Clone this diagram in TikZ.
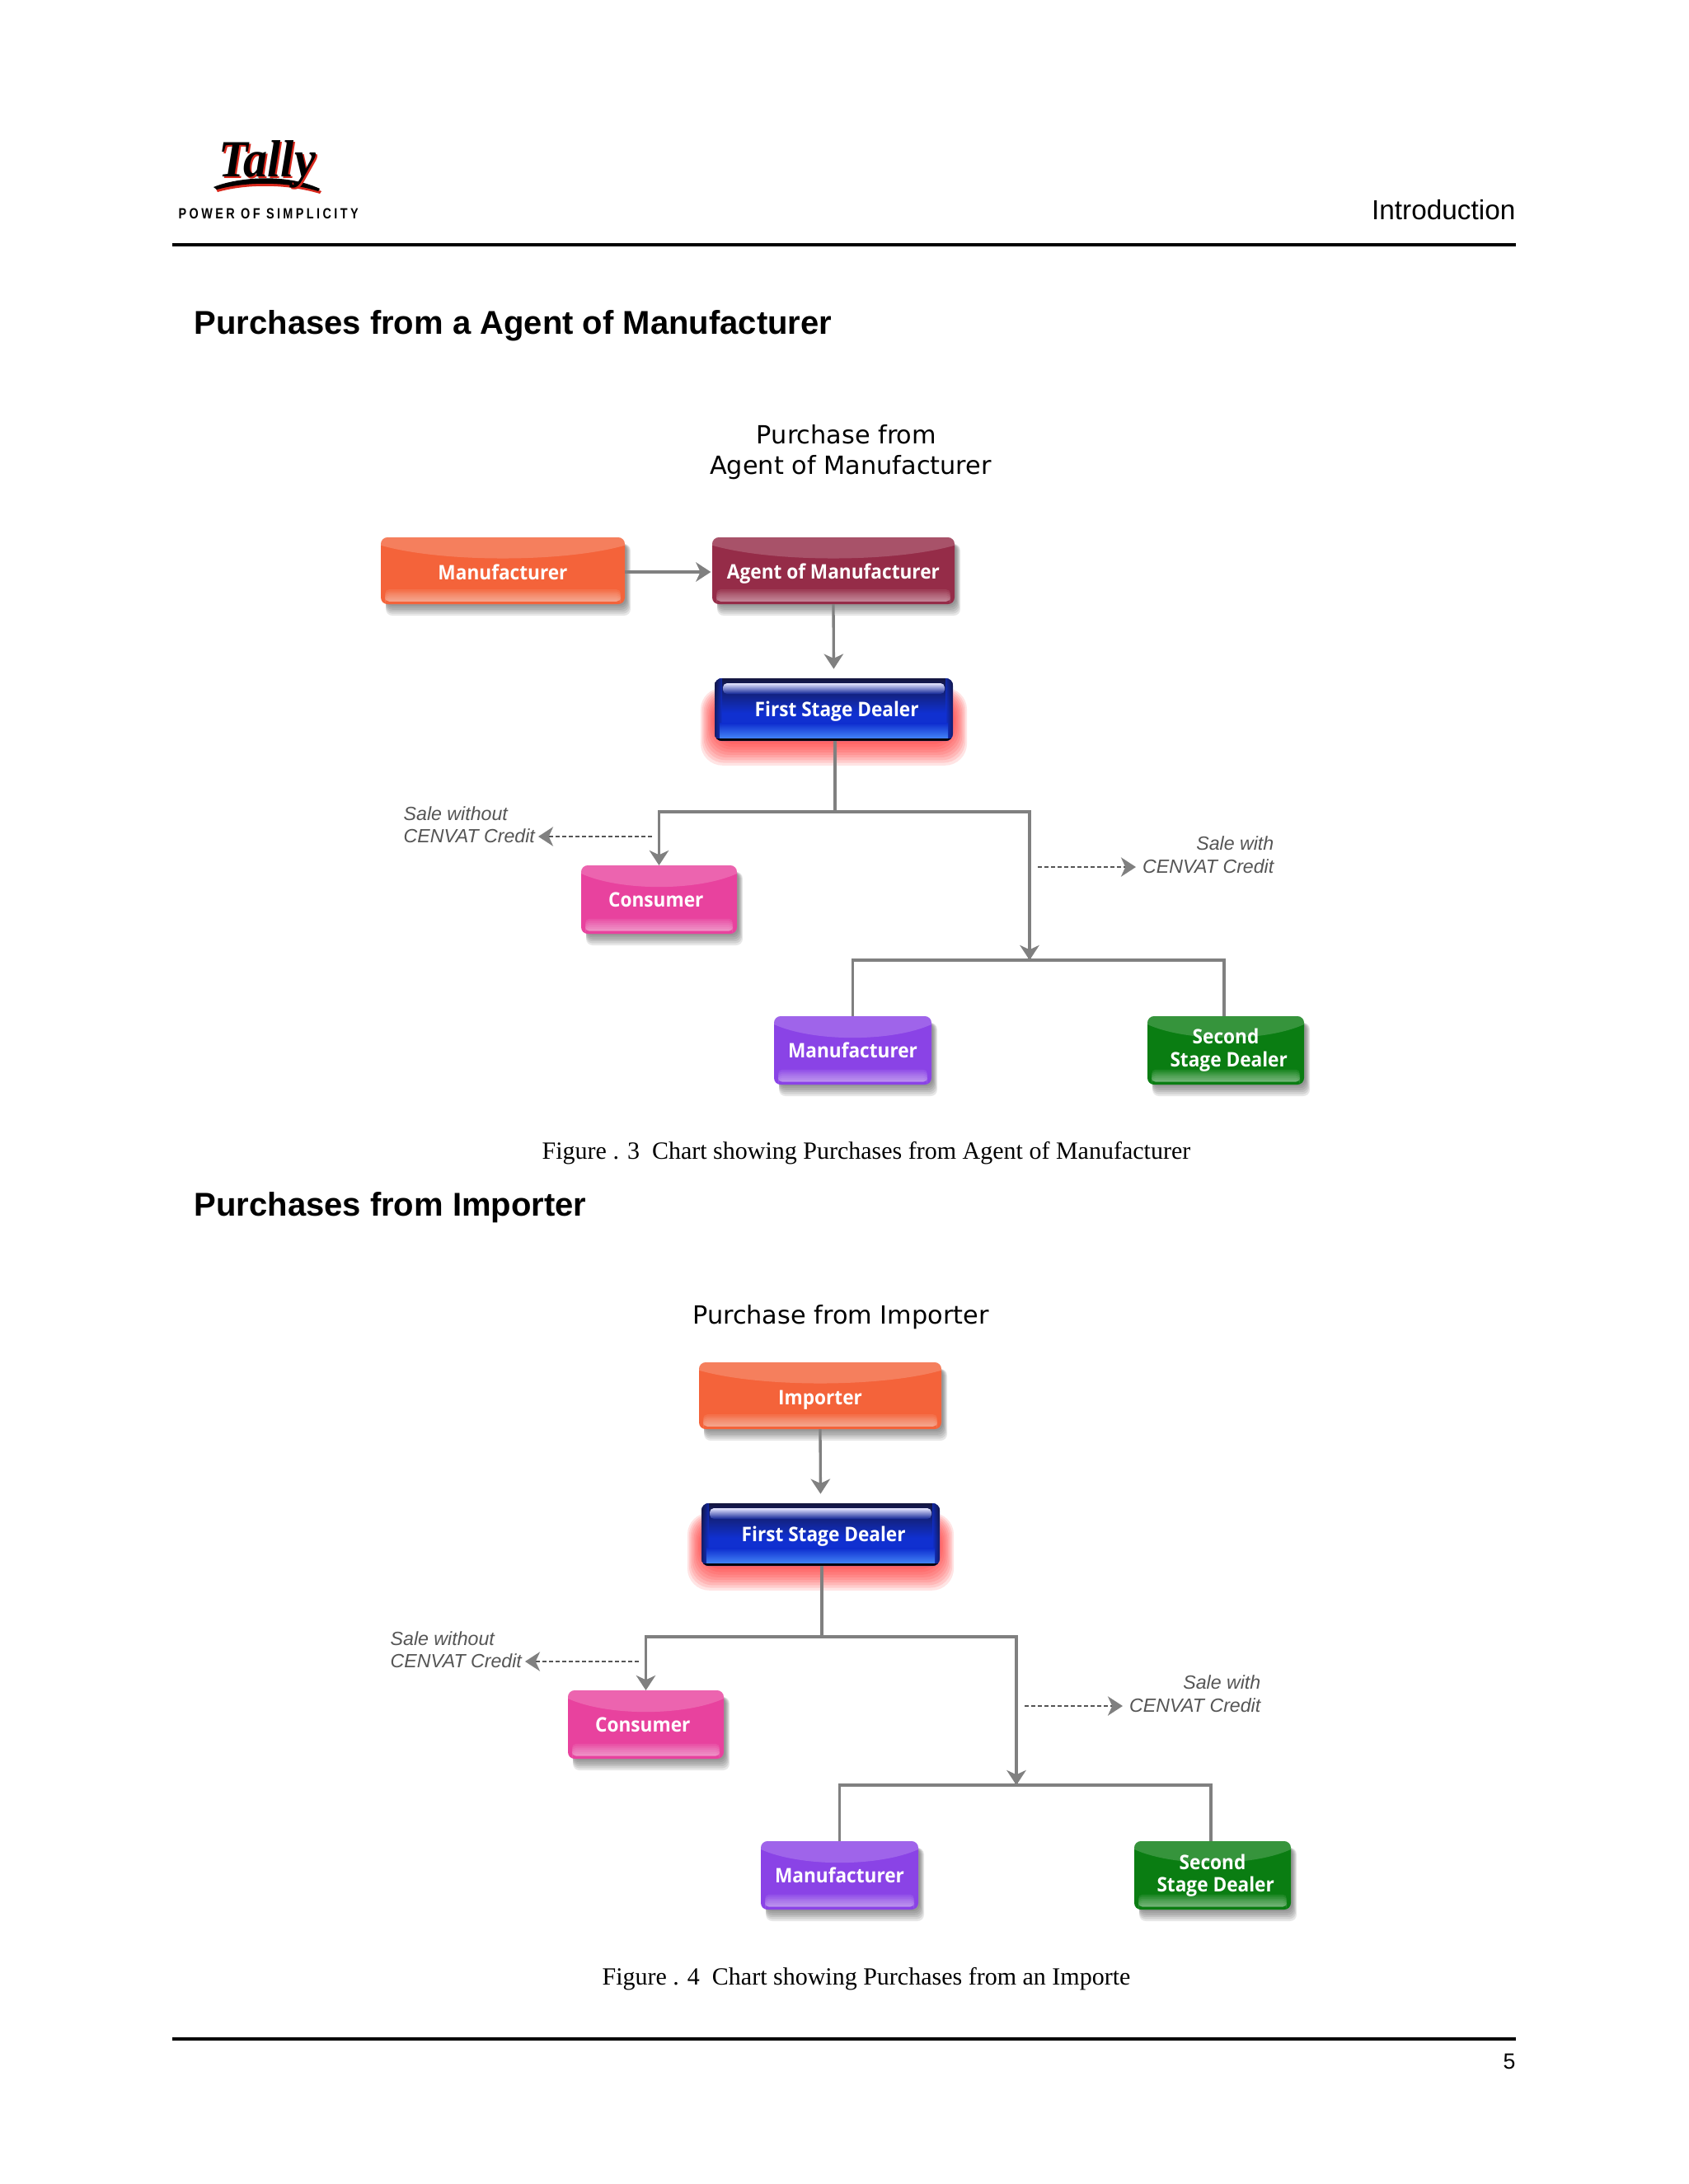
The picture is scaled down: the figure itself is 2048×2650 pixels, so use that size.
\documentclass[tikz,border=0pt]{standalone}
\usepackage{fontspec}
\setmainfont{Liberation Sans}
\newfontfamily\boxfont[FakeStretch=0.93]{Open Sans}
\newfontfamily\titlefont{DejaVu Sans}
\newfontfamily\capfont{Liberation Serif}
\usetikzlibrary{arrows.meta,calc}
\definecolor{lnc}{HTML}{808080}
\definecolor{txg}{HTML}{555555}
\definecolor{orangec}{HTML}{F4633A}
\definecolor{agentc}{HTML}{952C48}
\definecolor{pinkc}{HTML}{E8429E}
\definecolor{purplec}{HTML}{8A43E6}
\definecolor{greenc}{HTML}{0A7D12}
\definecolor{bluec}{HTML}{1030D0}
\definecolor{navyc}{HTML}{14163F}
\definecolor{glowc}{HTML}{FF2A2A}
\definecolor{tallyred}{HTML}{D8281C}
\newcommand\fs[1]{\fontsize{#1}{#1}\selectfont}
\newcommand\lowtxt[2]{\raisebox{-#1}[\height][\depth]{#2}}
\tikzset{
  conn/.style={draw=lnc,line width=1pt},
  tipped/.style={conn,-{Stealth[length=5.4bp,width=7bp,inset=1.6bp]}},
  dashconn/.style={draw=txg,line width=0.55pt,dash pattern=on 1.5pt off 0.9pt,
     -{Stealth[length=5.4bp,width=7bp,inset=1.6bp,color=lnc]}},
  boxbase/.style={inner sep=0pt,outer sep=0pt,text=white,align=center,
     font=\boxfont\bfseries\fs{7.3}},
  salelabel/.style={inner sep=0pt,text=txg,font=\itshape\fs{6.95},align=left},
  chartitle/.style={inner sep=0pt,text=black,font=\titlefont\fs{9.1}},
}
% glossy box: name, x1,y1,x2,y2, colour, text
\newcommand\gbox[7]{%
  \pgfmathsetmacro{\gw}{#4-#2}\pgfmathsetmacro{\gh}{#5-#3}%
  \foreach \i in {0,...,5}
    \fill[black!70,opacity=.13,rounded corners=2.4bp]
      (#2+6,#3+8) rectangle (#4+2+\i,#5+2+2.4*\i);
  \fill[#6,rounded corners=2.4bp] (#2,#3) rectangle (#4,#5);
  \begin{scope}
    \clip[rounded corners=2.4bp] (#2,#3) rectangle (#4,#5);
    \begin{scope}[shift={(#2,#3)}]
      \fill[white,opacity=.18] (0,0) -- (\gw,0) -- (\gw,.12*\gh)
        .. controls (.75*\gw,.38*\gh) and (.25*\gw,.38*\gh) .. (0,.12*\gh) -- cycle;
      \foreach \i in {0,...,5}
        \fill[white,opacity=.085,rounded corners=1.5bp] (5,{\gh*(.78+.03*\i)}) rectangle (\gw-5,.96*\gh);
    \end{scope}
  \end{scope}
  \node[boxbase,minimum width=\gw*0.29883bp,minimum height=\gh*0.29883bp]
    (#1) at ({(#2+#4)/2},{(#3+#5)/2}) {#7};
}
% glass box of the first stage dealer
\newcommand\glassbox[6]{%
  \pgfmathsetmacro{\gw}{#4-#2}\pgfmathsetmacro{\gh}{#5-#3}%
  \foreach \i in {1,...,9}
    \fill[glowc,opacity=.125,rounded corners=8bp]
      (#2-1.9*\i,#3+24-1.4*\i) rectangle (#4+1.9*\i,#5+1+3.2*\i);
  \fill[bluec,rounded corners=2.6bp] (#2,#3) rectangle (#4,#5);
  \begin{scope}
    \clip[rounded corners=2.6bp] (#2,#3) rectangle (#4,#5);
    \begin{scope}[shift={(#2,#3)}]
      \shade[top color=navyc,bottom color=bluec] (0,0) rectangle (\gw,.55*\gh);
      \shade[left color=navyc,right color=bluec,opacity=.7] (0,0) rectangle (9,\gh);
      \shade[left color=bluec,right color=navyc,opacity=.7] (\gw-9,0) rectangle (\gw,\gh);
      \shade[top color=bluec,bottom color=blue!60!cyan!70!white,opacity=.8] (6,.72*\gh) rectangle (\gw-6,\gh-4);
      \fill[black!75!navyc] (0,\gh-3) rectangle (\gw,\gh);
      \shade[top color=white!90!blue,bottom color=navyc!40!bluec,rounded corners=1.5bp] (10,6) rectangle (\gw-10,19);
    \end{scope}
  \end{scope}
  \node[boxbase,minimum width=\gw*0.29883bp,minimum height=\gh*0.29883bp]
    (#1) at ({(#2+#4)/2},{(#3+#5)/2}) {#6};
}
% the chart common to both figures; #1 = top box colour, #2 = its text, #3 = drop of the right hand note
\newcommand\chartbody[3]{%
  \gbox{a}{864}{652}{1158}{733}{#1}{#2}
  \glassbox{f}{867}{823}{1156}{899}{\hspace*{2.2bp}\lowtxt{.5bp}{First Stage Dealer}}
  \gbox{c}{705}{1050}{894}{1133}{pinkc}{Consumer\hspace*{2.2bp}}
  \gbox{m}{939}{1233}{1130}{1316}{purplec}{Manufacturer}
  \gbox{s}{1392}{1233}{1582}{1316}{greenc}{\raisebox{.4bp}{Second}\\[.6bp]\hspace*{2.2bp}Stage Dealer}
  \coordinate (fb) at (1013,899);
  \coordinate (j) at (1249,985);
  \coordinate (k) at (1249,1165);
  \coordinate (st) at (1485,1233);
  \coordinate (lt) at (653,1015);
  \coordinate (ls) at (791,1015);
  \coordinate (rs) at (1259,1052+#3);
  \coordinate (rt) at (1378,1052+#3);
  \draw[tipped,shorten >=3.4bp] (a.south) -- (f.north);
  \draw[conn] (fb) |- (j) -- (k);
  \draw[tipped] (fb |- j) -| (c.north);
  \draw[tipped] (j) -- (k);
  \draw[conn] (m.north) |- (k) -| (st);
  \draw[dashconn] (ls) -- (lt);
  \draw[dashconn] (rs) -- (rt);
  \node[salelabel,anchor=west] (sl1) at (489,987) {Sale without};
  \node[salelabel,anchor=west] (sl2) at (489,1014) {CENVAT Credit};
  \node[salelabel,anchor=east] (sr1) at (1546,1023+#3) {Sale with};
  \node[salelabel,anchor=east] (sr2) at (1546,1051+#3) {CENVAT Credit};
}
\begin{document}
\begin{tikzpicture}[x=0.29883bp,y=-0.29883bp]
\useasboundingbox (0,0) rectangle (2048,2650);
\fill[white] (0,0) rectangle (2048,2650);
% header
\fill[tallyred] (262,229) .. controls (285,219) and (345,212) .. (390,232) -- (388,235)
   .. controls (345,222) and (295,224) .. (264,233) -- cycle;
\fill[black] (259,227) .. controls (285,216) and (345,209) .. (388,229) -- (386,232)
   .. controls (345,219) and (295,221) .. (263,230) -- cycle;
\node[inner sep=0pt,anchor=base,text=tallyred,font=\capfont\bfseries\itshape\fs{19}\addfontfeature{FakeStretch=0.92}] at (326,216) {Tally};
\node[inner sep=0pt,anchor=base,text=black,font=\capfont\bfseries\itshape\fs{19}\addfontfeature{FakeStretch=0.92}] (logo) at (324,214) {Tally};
\node[inner sep=0pt,anchor=west,font=\bfseries\fs{5.4}\addfontfeature{FakeStretch=0.8,LetterSpace=19}] (tag) at (216,259) {POWER OF SIMPLICITY};
\node[inner sep=0pt,anchor=east,font=\fs{10}] (intro) at (1839,255) {Introduction};
\draw[black,line width=1pt] (209,297) -- (1839,297);
\node[inner sep=0pt,anchor=west,font=\bfseries\fs{12}] (h1) at (235,395) {Purchases from a Agent of Manufacturer};
% figure 3
\node[chartitle] (t1) at (1027,527) {Purchase from};
\node[chartitle] (t2) at (1032,567) {Agent of Manufacturer};
\gbox{mm}{462}{652}{758}{733}{orangec}{\lowtxt{.5bp}{Manufacturer}}
\begin{scope}
  \chartbody{agentc}{\lowtxt{1bp}{Agent of Manufacturer}}{0}
\end{scope}
\draw[tipped,shorten >=0.5bp] ([yshift=-.45bp]mm.east) -- ([yshift=-.45bp]a.west);
\node[inner sep=0pt,font=\capfont\fs{9}] (cap1) at (1051,1399) {Figure . 3\ \ Chart showing Purchases from Agent of Manufacturer};
\node[inner sep=0pt,anchor=west,font=\bfseries\fs{12}] (h2) at (235,1465) {Purchases from Importer};
% figure 4
\node[chartitle] (t3) at (1020,1598) {Purchase from Importer};
\begin{scope}[shift={(-16,1001)},name prefix=b]
  \chartbody{orangec}{\lowtxt{1.5bp}{Importer}}{17}
\end{scope}
\node[inner sep=0pt,font=\capfont\fs{9}] (cap2) at (1051,2401) {Figure . 4\ \ Chart showing Purchases from an Importe};
% footer
\draw[black,line width=1pt] (209,2474) -- (1839,2474);
\node[inner sep=0pt,anchor=east,font=\fs{8}] (pg) at (1839,2501) {5};
\end{tikzpicture}
\end{document}
